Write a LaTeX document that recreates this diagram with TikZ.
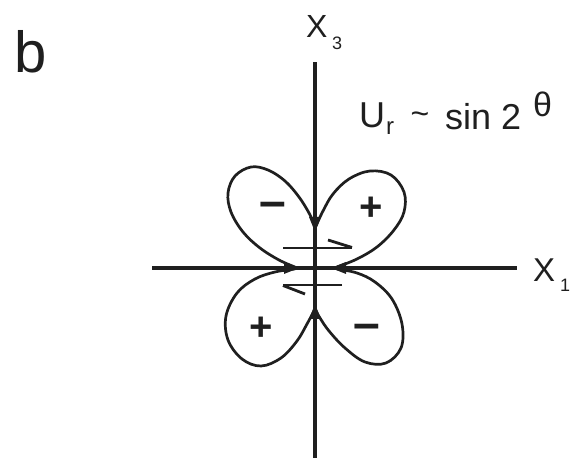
\documentclass[tikz,border=0pt]{standalone}
\usepackage{fontspec}
\setmainfont{Liberation Sans}
\begin{document}
\begin{tikzpicture}[x=1pt,y=1pt,
  ink/.style={black!88},
  axis/.style={ink, line width=3.4pt},
  lobe/.style={ink, line width=2.7pt, line join=round, line cap=round},
  shear/.style={ink, line width=2.8pt, line cap=butt},
  tipfill/.style={fill=black!88},
  sign/.style={inner sep=0pt, text=black!88},
  lbl/.style={inner sep=0pt, anchor=base west, text=black!88}]
\useasboundingbox (0,0) rectangle (574,458);
% axes
\coordinate (O) at (315,190);
\coordinate (axtop) at (315,396);
\coordinate (axbot) at (315,0);
\coordinate (axleft) at (152,190);
\coordinate (axright) at (517,190);
\draw[axis] (axleft) -- (axright);
\draw[axis] (axbot) -- (axtop);
% lobes
\begin{scope}[shift={(315,190)}]
  \draw[lobe] plot[smooth, tension=0.6] coordinates {(-20,1) (-36,8) (-55,20) (-72,36) (-84,56) (-87,75) (-80,92) (-64,101) (-47,98) (-30,87) (-16,71) (-6,55) (-1,44)};
  \draw[lobe] plot[smooth, tension=0.6] coordinates {(1,42) (8,57) (18,74) (34,89) (55,97) (76,93) (89,76) (89,56) (79,38) (62,21) (42,9) (22,1)};
  \draw[lobe] plot[smooth, tension=0.6] coordinates {(-20,-1) (-40,-4) (-60,-11) (-78,-25) (-89,-48) (-87,-72) (-73,-91) (-54,-98) (-34,-90) (-18,-73) (-8,-56) (-1,-43)};
  \draw[lobe] plot[smooth, tension=0.6] coordinates {(22,-1) (42,-5) (60,-14) (77,-31) (87,-56) (86,-80) (71,-95) (50,-94) (30,-80) (14,-63) (5,-50) (1,-43)};
  % arrowheads at the nodal contacts
  \fill[tipfill] (0,36) -- (-6,51) -- (6,51) -- cycle;
  \fill[tipfill] (0,-36) -- (-6,-51) -- (6,-51) -- cycle;
  \fill[tipfill] (-16,0) -- (-31,-6) -- (-31,6) -- cycle;
  \fill[tipfill] (16,0) -- (31,-6) -- (31,6) -- cycle;
  % shear arrows
  \draw[shear] (-32,20) -- (37,20);
  \draw[shear] (13,28) -- (37,20.5);
  \draw[shear] (27,-17) -- (-32,-17);
  \draw[shear] (-10,-26) -- (-32,-17.5);
  % signs
  \node[sign, font=\fontsize{48}{48}\selectfont\bfseries] (m1) at (-42,58) {–};
  \node[sign, font=\fontsize{40}{40}\selectfont\bfseries] (p1) at (56,59) {+};
  \node[sign, font=\fontsize{40}{40}\selectfont\bfseries] (p2) at (-53.5,-60.5) {+};
  \node[sign, font=\fontsize{48}{48}\selectfont\bfseries] (m2) at (51.5,-64) {–};
\end{scope}
% labels
\node[lbl, font=\fontsize{58}{58}\selectfont] (b) at (14,385) {b};
\node[lbl, font=\fontsize{32}{32}\selectfont] (x3) at (306,420) {X};
\node[lbl, font=\fontsize{18}{18}\selectfont] (x3s) at (332,408) {3};
\node[lbl, font=\fontsize{33}{33}\selectfont] (x1) at (533,176) {X};
\node[lbl, font=\fontsize{18}{18}\selectfont] (x1s) at (560,166) {1};
\node[lbl, font=\fontsize{36}{36}\selectfont] (u) at (359,330) {U};
\node[lbl, font=\fontsize{24}{24}\selectfont] (ur) at (386,323) {r};
\node[inner sep=0pt, text=black!88, font=\fontsize{32}{32}\selectfont] (tl) at (420,340) {\textasciitilde};
\node[lbl, font=\fontsize{36}{36}\selectfont] (sin) at (445,328) {sin 2};
\node[lbl, font=\fontsize{34}{34}\selectfont] (th) at (533,341) {θ};
\end{tikzpicture}
\end{document}
